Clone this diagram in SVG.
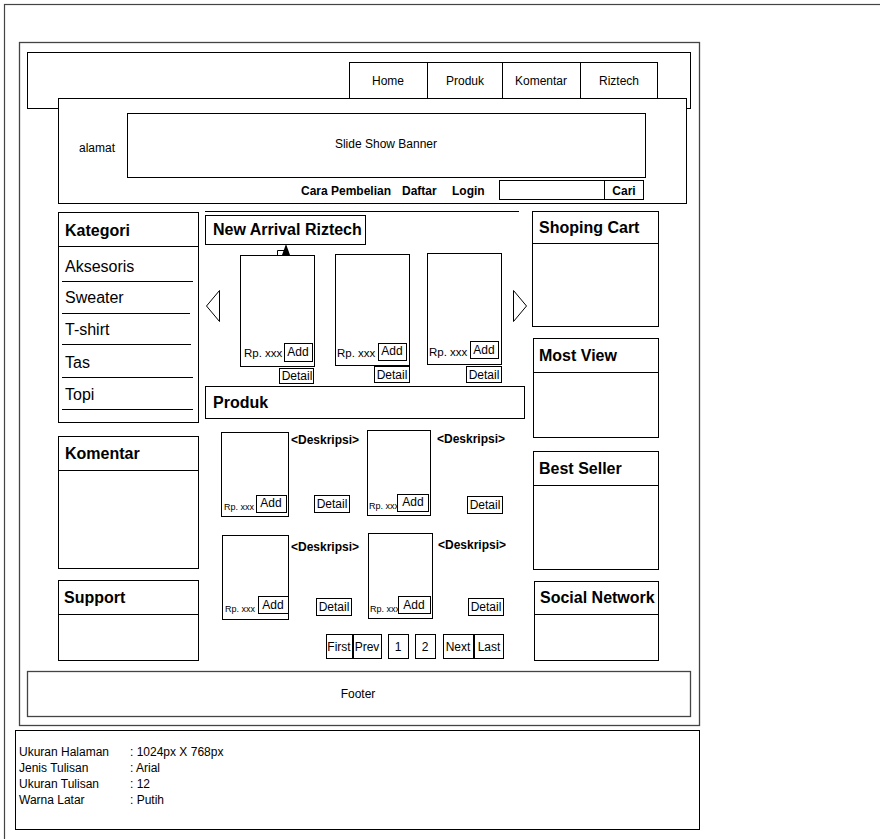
<svg xmlns="http://www.w3.org/2000/svg" width="880" height="839" viewBox="0 0 880 839">
<style>
text{font-family:"Liberation Sans",Arial,sans-serif;fill:#000}
.b{font-weight:bold}
.box{fill:#fff;stroke:#000;stroke-width:1}
.g{fill:none;stroke:#444;stroke-width:1.3}
.ln{stroke:#000;stroke-width:1;fill:none}
.t12{font-size:12px}
.t11{font-size:11.5px}
.t9{font-size:9px}
.t16{font-size:16px}
.c{text-anchor:middle}
</style>
<rect width="880" height="839" fill="#fff"/>
<g id="canvas"><rect x="4.5" y="4.5" width="880" height="840" fill="none" stroke="#444" stroke-width="1.2"/></g>
<g id="page"><rect x="19.5" y="42.5" width="680" height="683" class="g"/></g>
<g id="navbar">
<rect x="27.5" y="52.5" width="663" height="56" class="box"/>
<rect x="349.5" y="62.5" width="78" height="36" class="box"/><text x="388" y="85" class="t12 c">Home</text>
<rect x="427.5" y="62.5" width="75" height="36" class="box"/><text x="465" y="85" class="t12 c">Produk</text>
<rect x="502.5" y="62.5" width="78" height="36" class="box"/><text x="541" y="85" class="t12 c">Komentar</text>
<rect x="580.5" y="62.5" width="77" height="36" class="box"/><text x="619" y="85" class="t12 c">Riztech</text>
</g>
<g id="header">
<rect x="58.5" y="98.5" width="628" height="105" class="box" stroke="#333"/>
<text x="97" y="152" class="t12 c">alamat</text>
<rect x="127.5" y="113.5" width="518" height="64" class="box"/>
<text x="386" y="148" class="t12 c">Slide Show Banner</text>
<text x="301" y="195" class="t12 b">Cara Pembelian</text>
<text x="402" y="195" class="t12 b">Daftar</text>
<text x="452" y="195" class="t12 b">Login</text>
<rect x="499.5" y="180.5" width="105" height="19" class="box"/>
<rect x="604.5" y="180.5" width="39" height="19" class="box"/>
<text x="624" y="195" class="t12 b c">Cari</text>
</g>
<g id="kategori">
<rect x="58.5" y="212.5" width="140" height="210" class="box"/>
<line x1="58" y1="246.5" x2="198" y2="246.5" class="ln"/>
<text x="65" y="236" class="t16 b">Kategori</text>
<text x="65" y="272" class="t16">Aksesoris</text><line x1="62" y1="281.5" x2="193" y2="281.5" class="ln"/>
<text x="65" y="303" class="t16">Sweater</text><line x1="62" y1="313.5" x2="190" y2="313.5" class="ln"/>
<text x="65" y="335" class="t16">T-shirt</text><line x1="62" y1="344.5" x2="191" y2="344.5" class="ln"/>
<text x="65" y="368" class="t16">Tas</text><line x1="62" y1="377.5" x2="193" y2="377.5" class="ln"/>
<text x="65" y="400" class="t16">Topi</text><line x1="62" y1="409.5" x2="193" y2="409.5" class="ln"/>
</g>
<g id="komentar">
<rect x="58.5" y="436.5" width="140" height="132" class="box"/>
<line x1="58" y1="470.5" x2="198" y2="470.5" class="ln"/>
<text x="65" y="459" class="t16 b">Komentar</text>
</g>
<g id="support">
<rect x="58.5" y="580.5" width="140" height="80" class="box"/>
<line x1="58" y1="614.5" x2="198" y2="614.5" class="ln"/>
<text x="64" y="603" class="t16 b">Support</text>
</g>
<g id="new-arrival">
<line x1="205" y1="211.5" x2="519" y2="211.5" class="ln"/>
<rect x="205.5" y="215.5" width="160" height="29" class="box"/>
<text x="213" y="235" class="t16 b">New Arrival Riztech</text>
<polygon points="219.5,290.5 206.5,306 219.5,321.5" fill="#fff" stroke="#000"/>
<polygon points="513.5,290.5 526.5,306 513.5,321.5" fill="#fff" stroke="#000"/>
<path d="M277.5 255 V250.5 H284" class="ln"/>
<polygon points="286,244 290,255 282,255" fill="#000"/>
<rect x="240.5" y="255.5" width="74" height="111" class="box"/>
<text x="244" y="357" class="t11">Rp. xxx</text>
<rect x="284.5" y="343.5" width="28" height="18" class="box"/><text x="298" y="356" class="t12 c">Add</text>
<rect x="279.5" y="368.5" width="34" height="15" class="box"/><text x="297" y="380" class="t12 c">Detail</text>
<rect x="335.5" y="254.5" width="74" height="111" class="box"/>
<text x="337" y="357" class="t11">Rp. xxx</text>
<rect x="378.5" y="343.5" width="28" height="17" class="box"/><text x="392" y="355" class="t12 c">Add</text>
<rect x="374.5" y="366.5" width="35" height="16" class="box"/><text x="392" y="379" class="t12 c">Detail</text>
<rect x="427.5" y="253.5" width="74" height="111" class="box"/>
<text x="429" y="356" class="t11">Rp. xxx</text>
<rect x="470.5" y="341.5" width="28" height="17" class="box"/><text x="484" y="354" class="t12 c">Add</text>
<rect x="466.5" y="366.5" width="35" height="16" class="box"/><text x="484" y="379" class="t12 c">Detail</text>
</g>
<g id="produk">
<rect x="205.5" y="386.5" width="319" height="32" class="box"/>
<text x="213" y="408" class="t16 b">Produk</text>
<rect x="221.5" y="432.5" width="67" height="84" class="box"/>
<text x="224" y="510" class="t9">Rp. xxx</text>
<rect x="256.5" y="495.5" width="30" height="17" class="box"/><text x="271" y="507" class="t12 c">Add</text>
<text x="291" y="444" class="t12 b">&lt;Deskripsi&gt;</text>
<rect x="314.5" y="495.5" width="35" height="17" class="box"/><text x="332" y="508" class="t12 c">Detail</text>
<rect x="367.5" y="430.5" width="63" height="85" class="box"/>
<text x="369" y="509" class="t9">Rp. xxx</text>
<rect x="397.5" y="494.5" width="31" height="17" class="box"/><text x="413" y="506" class="t12 c">Add</text>
<text x="437" y="443" class="t12 b">&lt;Deskripsi&gt;</text>
<rect x="467.5" y="496.5" width="35" height="17" class="box"/><text x="485" y="509" class="t12 c">Detail</text>
<rect x="222.5" y="535.5" width="66" height="84" class="box"/>
<text x="225" y="612" class="t9">Rp. xxx</text>
<rect x="258.5" y="596.5" width="30" height="17" class="box"/><text x="273" y="609" class="t12 c">Add</text>
<text x="291" y="551" class="t12 b">&lt;Deskripsi&gt;</text>
<rect x="316.5" y="598.5" width="35" height="17" class="box"/><text x="334" y="611" class="t12 c">Detail</text>
<rect x="368.5" y="533.5" width="64" height="85" class="box"/>
<text x="370" y="612" class="t9">Rp. xxx</text>
<rect x="398.5" y="596.5" width="32" height="17" class="box"/><text x="414" y="609" class="t12 c">Add</text>
<text x="438" y="549" class="t12 b">&lt;Deskripsi&gt;</text>
<rect x="468.5" y="598.5" width="35" height="17" class="box"/><text x="486" y="611" class="t12 c">Detail</text>
</g>
<g id="pagination">
<rect x="326.5" y="634.5" width="26" height="24" class="box"/><text x="339" y="651" class="t12 c">First</text>
<rect x="353.5" y="634.5" width="28" height="24" class="box"/><text x="367" y="651" class="t12 c">Prev</text>
<rect x="388.5" y="634.5" width="20" height="24" class="box"/><text x="398" y="651" class="t12 c">1</text>
<rect x="415.5" y="634.5" width="20" height="24" class="box"/><text x="425" y="651" class="t12 c">2</text>
<rect x="443.5" y="634.5" width="30" height="24" class="box"/><text x="458" y="651" class="t12 c">Next</text>
<rect x="474.5" y="634.5" width="29" height="24" class="box"/><text x="489" y="651" class="t12 c">Last</text>
</g>
<g id="shoping-cart">
<rect x="532.5" y="211.5" width="126" height="115" class="box"/>
<line x1="532" y1="243.5" x2="658" y2="243.5" class="ln"/>
<text x="539" y="233" class="t16 b">Shoping Cart</text>
</g>
<g id="most-view">
<rect x="533.5" y="338.5" width="125" height="99" class="box"/>
<line x1="533" y1="372.5" x2="658" y2="372.5" class="ln"/>
<text x="539" y="361" class="t16 b">Most View</text>
</g>
<g id="best-seller">
<rect x="533.5" y="451.5" width="125" height="118" class="box"/>
<line x1="533" y1="485.5" x2="658" y2="485.5" class="ln"/>
<text x="539" y="474" class="t16 b">Best Seller</text>
</g>
<g id="social-network">
<rect x="534.5" y="581.5" width="124" height="79" class="box"/>
<line x1="534" y1="614.5" x2="658" y2="614.5" class="ln"/>
<text x="540" y="603" class="t16 b">Social Network</text>
</g>
<g id="footer">
<rect x="27.5" y="671.5" width="663" height="45" class="g"/>
<text x="358" y="698" class="t12 c">Footer</text>
</g>
<g id="info">
<rect x="15.5" y="730.5" width="684" height="99" class="box"/>
<text x="19" y="756" class="t12">Ukuran Halaman</text><text x="130" y="756" class="t12">: 1024px X 768px</text>
<text x="19" y="772" class="t12">Jenis Tulisan</text><text x="130" y="772" class="t12">: Arial</text>
<text x="19" y="788" class="t12">Ukuran Tulisan</text><text x="130" y="788" class="t12">: 12</text>
<text x="19" y="804" class="t12">Warna Latar</text><text x="130" y="804" class="t12">: Putih</text>
</g>
</svg>
